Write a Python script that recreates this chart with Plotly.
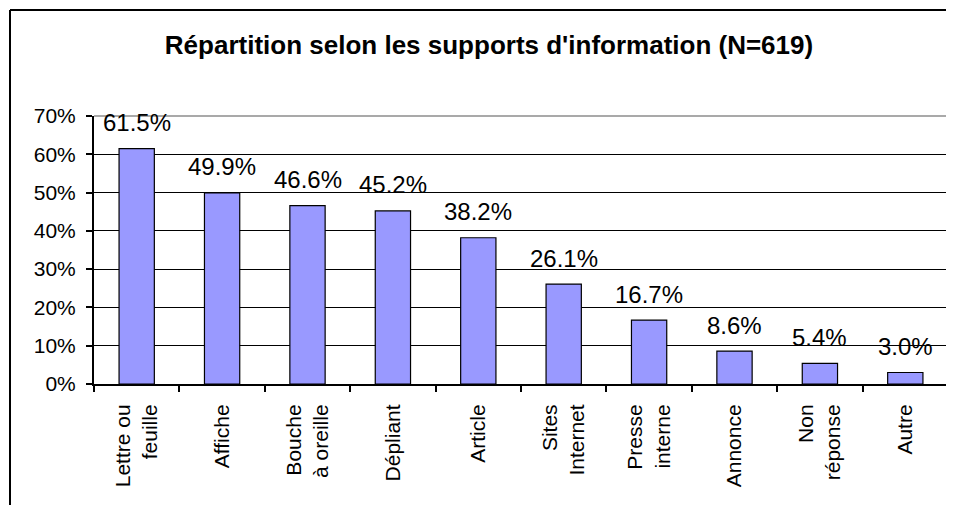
import plotly.graph_objects as go

categories = ["Lettre ou<br>feuille", "Affiche", "Bouche<br>à oreille", "Dépliant", "Article",
              "Sites<br>Internet", "Presse<br>interne", "Annonce", "Non<br>réponse", "Autre"]
values = [0.615, 0.499, 0.466, 0.452, 0.382, 0.261, 0.167, 0.086, 0.054, 0.030]
value_labels = ["61.5%", "49.9%", "46.6%", "45.2%", "38.2%", "26.1%", "16.7%", "8.6%", "5.4%", "3.0%"]
y_ticks = [0, 0.1, 0.2, 0.3, 0.4, 0.5, 0.6, 0.7]
title_text = "Répartition selon les supports d'information (N=619)"

FONT = "Liberation Sans, Arial, sans-serif"

fig = go.Figure()
fig.add_trace(go.Bar(
    x=categories, y=values,
    marker=dict(color="#9999FF", line=dict(color="black", width=1.2)),
    width=0.413,
))

for c, v, t in zip(categories, values, value_labels):
    fig.add_annotation(x=c, y=v, text=t, showarrow=False, xref="x", yref="y",
                       yanchor="middle", yshift=26,
                       font=dict(family=FONT, size=24, color="black"))

# page has an 8px body offset
L, R, T, B = 86, 14, 108, 129
W, H = 954, 505
pw = W - L - R
ph = H - T - B

# outer chart frame
fx = (2 - L) / pw
fy = (H - B - 2) / ph
fig.add_shape(type="line", xref="paper", yref="paper", x0=fx, x1=1.3, y0=fy, y1=fy,
              line=dict(color="black", width=2))
fig.add_shape(type="line", xref="paper", yref="paper", x0=fx, x1=fx, y0=-1, y1=fy,
              line=dict(color="black", width=2))
# plot area top/right gray border
fig.add_shape(type="line", xref="paper", yref="paper", x0=0, x1=1, y0=1, y1=1,
              line=dict(color="#8c8c8c", width=1.5), layer="above")
fig.add_shape(type="line", xref="paper", yref="paper", x0=1, x1=1, y0=0, y1=1,
              line=dict(color="#8c8c8c", width=1.5), layer="above")

fig.update_layout(
    width=W, height=H,
    margin=dict(l=L, r=R, t=T, b=B, autoexpand=False),
    paper_bgcolor="white", plot_bgcolor="white",
    showlegend=False,
    title=dict(text="<b>" + title_text + "</b>", x=481 / W, xanchor="center",
               y=1 - 37 / H, yanchor="middle", yref="container",
               font=dict(family=FONT, size=26, color="black")),
    font=dict(family=FONT, color="black"),
)
fig.update_xaxes(
    showline=True, linecolor="black", linewidth=2,
    ticks="outside", tickson="boundaries", ticklen=6, tickcolor="black", tickwidth=1.5,
    tickangle=-90, tickfont=dict(family=FONT, size=21, color="black"),
    ticklabelstandoff=10,
    showgrid=False,
)
fig.update_yaxes(
    range=[0, 0.7], tickvals=y_ticks, tickformat=".0%",
    showline=True, linecolor="black", linewidth=2,
    ticks="outside", ticklen=6, tickcolor="black", tickwidth=1.5,
    tickfont=dict(family=FONT, size=21, color="black"),
    ticklabelstandoff=6,
    showgrid=True, gridcolor="black", gridwidth=1.2,
    zeroline=False,
)

fig.write_html("out.html")
